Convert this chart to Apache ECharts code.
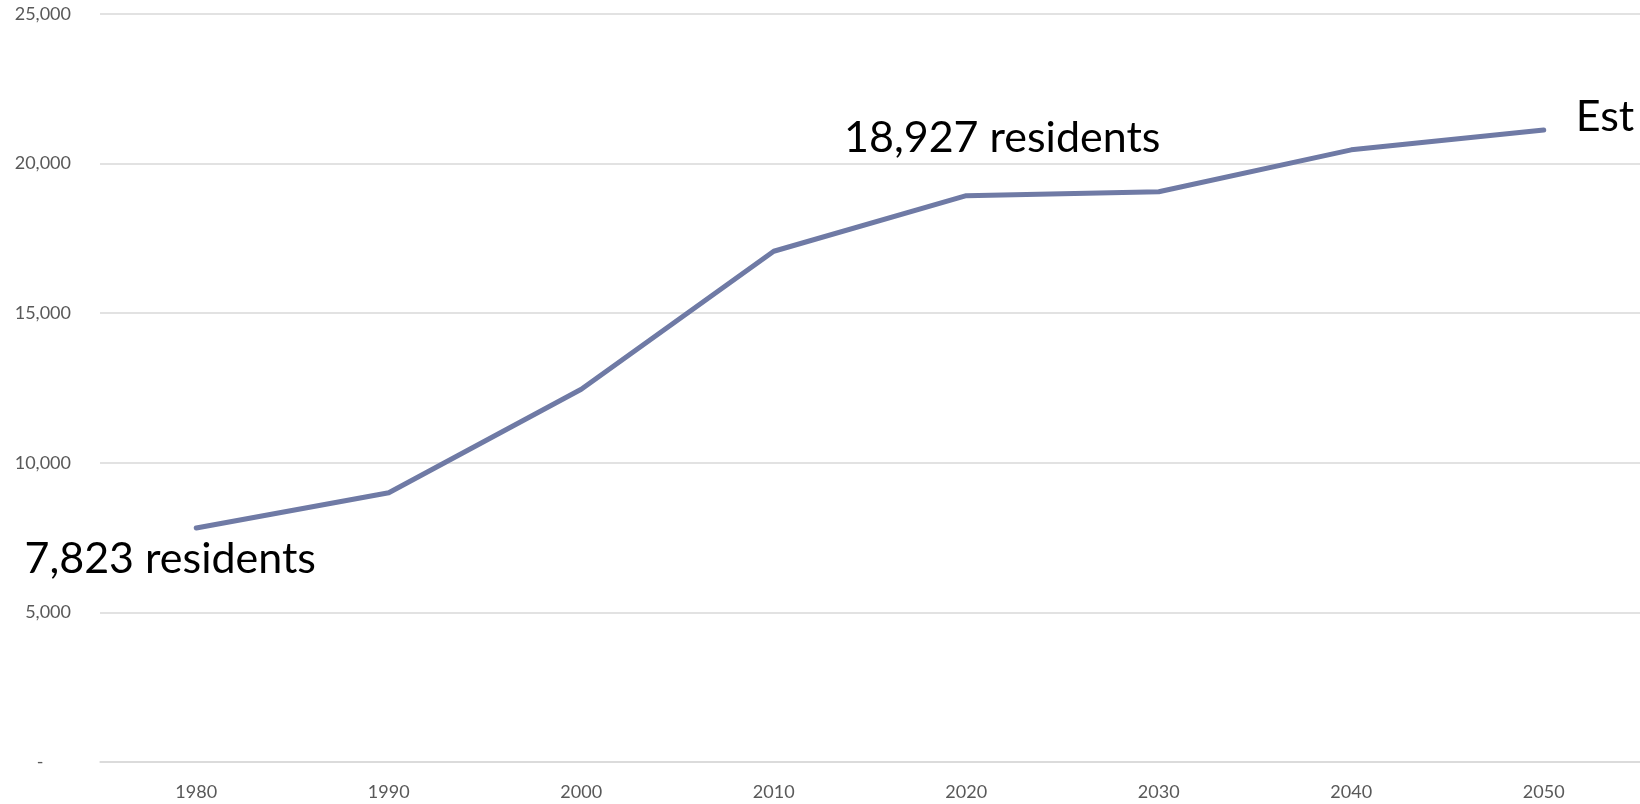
<!DOCTYPE html>
<html>
<head>
<meta charset="utf-8">
<script src="https://cdn.jsdelivr.net/npm/echarts@6/dist/echarts.min.js"></script>
<style>html,body{margin:0;padding:0;background:#fff}#c{width:1640px;height:804px}</style>
</head>
<body>
<div id="c"></div>
<script>
const years = ['1980','1990','2000','2010','2020','2030','2040','2050'];
const residents = [7823, 9000, 12460, 17070, 18927, 19060, 20460, 21120];
const annotations = {0: '7,823 residents', 4: '18,927 residents', 7: 'Est'};
const yTicks = [0, 5000, 10000, 15000, 20000, 25000];

const labelStyles = {
  0: {position: [-25, 32], align: 'center'},
  4: {position: [37, -57], align: 'center'},
  7: {position: [33, -12], align: 'left'}
};

const seriesData = residents.map((v, i) => {
  if (annotations[i] === undefined) return v;
  return {
    value: v,
    label: {
      show: true,
      formatter: annotations[i],
      position: labelStyles[i].position,
      align: labelStyles[i].align,
      verticalAlign: 'middle',
      fontFamily: 'Lato',
      fontSize: 43,
      color: '#000'
    }
  };
});

const chart = echarts.init(document.getElementById('c'), null, {renderer: 'canvas'});
chart.setOption({
  animation: false,
  backgroundColor: '#fff',
  grid: {left: 100, top: 14, width: 1542, height: 748, containLabel: false},
  xAxis: {
    type: 'category',
    data: years,
    boundaryGap: true,
    axisLine: {show: true, lineStyle: {color: '#d9d9d9', width: 1.5}},
    axisTick: {show: false},
    axisLabel: {color: '#595959', fontFamily: 'Lato', fontSize: 18, margin: 21}
  },
  yAxis: {
    type: 'value',
    min: yTicks[0],
    max: yTicks[yTicks.length - 1],
    interval: 5000,
    axisLine: {show: false},
    axisTick: {show: false},
    splitLine: {show: true, lineStyle: {color: '#d9d9d9', width: 1.5}},
    axisLabel: {
      color: '#595959', fontFamily: 'Lato', fontSize: 18, margin: 29,
      formatter: v => v === 0 ? '-      ' : v.toLocaleString('en-US')
    }
  },
  series: [{
    type: 'line',
    data: seriesData,
    symbol: 'circle',
    symbolSize: 2,
    showSymbol: true,
    itemStyle: {color: '#6f7aa5'},
    lineStyle: {color: '#6f7aa5', width: 5, cap: 'round', join: 'round'},
    label: {show: false},
    emphasis: {disabled: true}
  }]
});
</script>
</body>
</html>
